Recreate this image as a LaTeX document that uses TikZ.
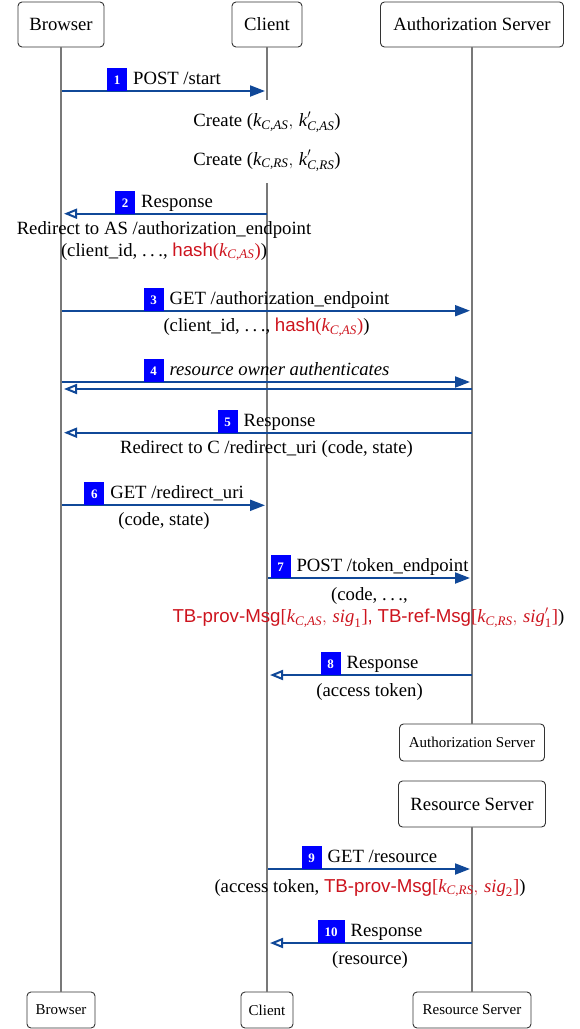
\documentclass[tikz,border=0pt]{standalone}
\usepackage{fontspec}
\usepackage{amsmath}
\setmainfont{Liberation Serif}
\setsansfont{Liberation Sans}
\usetikzlibrary{arrows.meta}

\definecolor{msgblue}{RGB}{16,72,152}
\definecolor{tagblue}{RGB}{0,0,255}
\definecolor{tbred}{RGB}{205,20,30}
\definecolor{lifegray}{RGB}{120,120,120}

% numbered step badge: blue block with a white bold number
\newcommand\stepno[2][20pt]{{\color{tagblue}\rule[-6.5pt]{#1}{23pt}}\llap{\makebox[#1]{\color{white}\bfseries\fontsize{13}{13}\selectfont #2}}}
% key symbols
\newcommand\kv[1]{\textit{k}_{\textit{#1}}}
\newcommand\kp[1]{\textit{k}'_{\textit{#1}}}
\newcommand\tbr[1]{\textcolor{tbred}{#1}}
\newcommand\spdots{.\hspace{3.5pt}.\hspace{3.5pt}.}

\begin{document}
\begin{tikzpicture}[x=1pt,y=-1pt,
  font=\fontsize{18.7}{22}\selectfont,
  hdr/.style={draw=black!80, line width=0.9pt, rounded corners=4pt, fill=white, inner sep=0pt},
  smallhdr/.style={hdr, font=\fontsize{15}{17}\selectfont},
  life/.style={draw=lifegray, line width=1.2pt},
  req/.style={draw=msgblue, line width=2pt, -{Triangle[length=15pt,width=11pt]}},
  resp/.style={draw=msgblue, line width=2pt, -{Triangle[open,length=13pt,width=10pt]}},
  lbl/.style={inner sep=0pt, anchor=base}]

\useasboundingbox (0,0) rectangle (579,1029);

% participants, top row
\node[hdr, minimum width=86pt, minimum height=45pt] (hB) at (61,24.5) {Browser};
\node[hdr, minimum width=70pt, minimum height=45pt] (hC) at (267,24.5) {Client};
\node[hdr, minimum width=183pt, minimum height=45pt] (hA) at (472,24.5) {Authorization Server};

% authorization server end and resource server start
\node[smallhdr, minimum width=145pt, minimum height=37pt] (mA) at (472,742.5) {Authorization Server};
\node[hdr, minimum width=147pt, minimum height=46pt] (mR) at (472,804) {Resource Server};

% participants, bottom row
\node[smallhdr, minimum width=68pt, minimum height=36pt] (fB) at (61,1010) {Browser};
\node[smallhdr, minimum width=52pt, minimum height=36pt] (fC) at (267,1010) {Client};
\node[smallhdr, minimum width=118pt, minimum height=36pt] (fR) at (472,1010) {Resource Server};

% lifelines
\coordinate (cgapA) at (267,100);
\coordinate (cgapB) at (267,183);
\draw[life] (hB.south) -- (fB.north);
\draw[life] (hC.south) -- (cgapA);
\draw[life] (cgapB) -- (fC.north);
\draw[life] (hA.south) -- (mA.north);
\draw[life] (mR.south) -- (fR.north);

% key creation at the client
\node[lbl] (cr1) at (267,126.7) {Create ($\kv{C,AS},\,\kp{C,AS}$)};
\node[lbl] (cr2) at (267,165) {Create ($\kv{C,RS},\,\kp{C,RS}$)};

% 1
\coordinate (s1) at (62,91); \coordinate (e1) at (265,91);
\draw[req] (s1) -- (e1);
\node[lbl] (l1) at (164,84.5) {\stepno{1}\hspace{6pt}POST /start};

% 2
\coordinate (s2) at (267,213.7); \coordinate (e2) at (64,213.7);
\draw[resp] (s2) -- (e2);
\node[lbl] (l2) at (164,207.2) {\stepno{2}\hspace{6pt}Response};
\node[lbl] (n2a) at (164,234.3) {Redirect to AS /authorization\_endpoint};
\node[lbl] (n2b) at (164,256) {(client\_id, \spdots, \tbr{\textsf{hash}($\kv{C,AS}$)})};

% 3
\coordinate (s3) at (62,310.7); \coordinate (e3) at (470,310.7);
\draw[req] (s3) -- (e3);
\node[lbl] (l3) at (266.5,304.2) {\stepno{3}\hspace{6pt}GET /authorization\_endpoint};
\node[lbl] (n3) at (266.5,331.7) {(client\_id, \spdots, \tbr{\textsf{hash}($\kv{C,AS}$)})};

% 4
\coordinate (s4) at (62,382); \coordinate (e4) at (470,382);
\coordinate (s4b) at (472,389); \coordinate (e4b) at (64,389);
\draw[req] (s4) -- (e4);
\draw[resp] (s4b) -- (e4b);
\node[lbl] (l4) at (266.5,375.5) {\stepno{4}\hspace{6pt}\textit{resource owner authenticates}};

% 5
\coordinate (s5) at (472,432.7); \coordinate (e5) at (64,432.7);
\draw[resp] (s5) -- (e5);
\node[lbl] (l5) at (266.5,426.2) {\stepno{5}\hspace{6pt}Response};
\node[lbl] (n5) at (266.5,453) {Redirect to C /redirect\_uri (code, state)};

% 6
\coordinate (s6) at (62,505.3); \coordinate (e6) at (265,505.3);
\draw[req] (s6) -- (e6);
\node[lbl] (l6) at (164,498.8) {\stepno{6}\hspace{6pt}GET /redirect\_uri};
\node[lbl] (n6) at (164,525) {(code, state)};

% 7
\coordinate (s7) at (268,578); \coordinate (e7) at (470,578);
\draw[req] (s7) -- (e7);
\node[lbl] (l7) at (369.5,571.5) {\stepno{7}\hspace{6pt}POST /token\_endpoint};
\node[lbl] (n7a) at (369.5,600.5) {(code, \spdots,};
\node[lbl] (n7b) at (368.5,622.5) {\tbr{\textsf{TB-prov-Msg}[$\kv{C,AS},\,\textit{sig}_{\text{1}}$]\textsf{,} \textsf{TB-ref-Msg}[$\kv{C,RS},\,\textit{sig}'_{\text{1}}$]})};

% 8
\coordinate (s8) at (472,675); \coordinate (e8) at (270,675);
\draw[resp] (s8) -- (e8);
\node[lbl] (l8) at (369.5,668.5) {\stepno{8}\hspace{6pt}Response};
\node[lbl] (n8) at (369.5,696) {(access token)};

% 9
\coordinate (s9) at (268,869); \coordinate (e9) at (470,869);
\draw[req] (s9) -- (e9);
\node[lbl] (l9) at (369.5,862.5) {\stepno{9}\hspace{6pt}GET /resource};
\node[lbl] (n9) at (370,892) {(access token, \tbr{\textsf{TB-prov-Msg}[$\kv{C,RS},\,\textit{sig}_{\text{2}}$]})};

% 10
\coordinate (s10) at (472,943); \coordinate (e10) at (270,943);
\draw[resp] (s10) -- (e10);
\node[lbl] (l10) at (370,936.5) {\stepno[27pt]{10}\hspace{6pt}Response};
\node[lbl] (n10) at (370,964) {(resource)};

\end{tikzpicture}
\end{document}
